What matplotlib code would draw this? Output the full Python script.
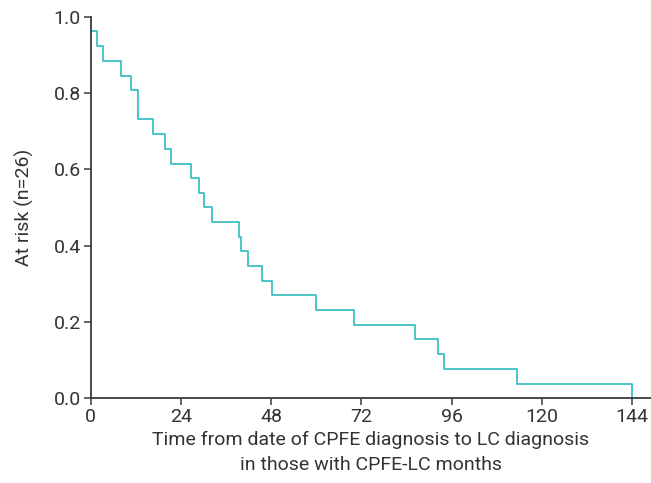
import numpy as np
import matplotlib
matplotlib.use('Agg')
import matplotlib.pyplot as plt

# Kaplan-Meier steps (months, proportion at risk)
times = [0, 1.6, 3.35, 8.05, 10.6, 12.6, 16.6, 19.75, 21.25, 26.6, 28.85,
         30.2, 32.15, 39.4, 40.1, 41.8, 45.5, 48.25, 60.0, 69.9, 86.3,
         92.3, 93.9, 113.3, 143.9]
at_risk = [0.962, 0.923, 0.885, 0.846, 0.808, 0.731, 0.692, 0.654, 0.615,
           0.577, 0.538, 0.500, 0.462, 0.423, 0.385, 0.346, 0.308, 0.269,
           0.231, 0.192, 0.154, 0.115, 0.077, 0.038, 0.0]

x_ticks = [0, 24, 48, 72, 96, 120, 144]
y_ticks = [0.0, 0.2, 0.4, 0.6, 0.8, 1.0]

plt.rcParams['font.family'] = ['Roboto', 'DejaVu Sans']
plt.rcParams['font.size'] = 14

fig = plt.figure(figsize=(6.51, 4.83), dpi=100)
ax = fig.add_axes([0.1393, 0.176, 0.8607, 0.789])

ax.step(times, at_risk, where='post', color='#3cbfc4', linewidth=1.3)

ax.set_xlim(0, 149)
ax.set_ylim(0, 1.0)
ax.set_xticks(x_ticks)
ax.set_yticks(y_ticks)
ax.set_yticklabels(['%.1f' % v for v in y_ticks])

for side in ['top', 'right']:
    ax.spines[side].set_visible(False)
for side in ['left', 'bottom']:
    ax.spines[side].set_color('#3a3a3a')
    ax.spines[side].set_linewidth(1.3)

ax.tick_params(axis='both', direction='out', length=5, width=1.1,
               color='#3a3a3a', labelcolor='#333333', labelsize=14, pad=2)

ax.set_xlabel('Time from date of CPFE diagnosis to LC diagnosis\n'
              'in those with CPFE-LC months', color='#333333',
              fontsize=14, labelpad=4, linespacing=1.45)
ax.set_ylabel('At risk (n=26)', color='#333333', fontsize=14, labelpad=14)

fig.savefig('out.png', dpi=100)
